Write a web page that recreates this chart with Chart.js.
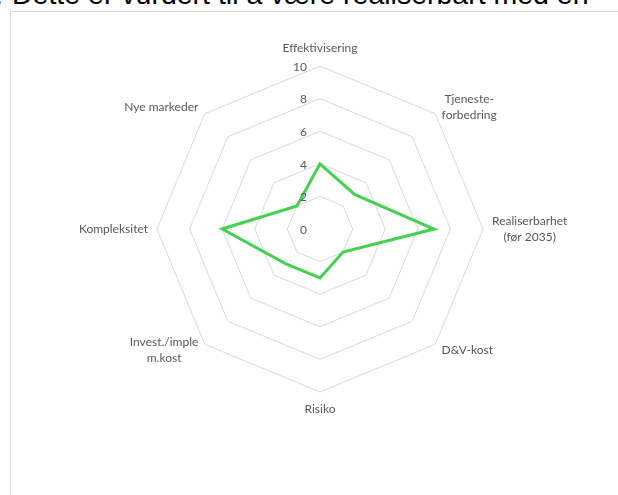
<!DOCTYPE html>
<html>
<head>
<meta charset="utf-8">
<script src="https://cdn.jsdelivr.net/npm/chart.js@4"></script>
<style>
  html, body { margin: 0; padding: 0; background: #fff; overflow: hidden; }
  body { width: 618px; height: 495px; position: relative; }
  .intro {
    position: absolute; top: -20px;
    font-family: "Liberation Sans", Arial, sans-serif;
    font-size: 28.5px; line-height: 28.5px; color: #000; white-space: nowrap;
  }
  #frame {
    position: absolute; left: 10px; top: 11px; width: 700px; height: 600px;
    border: 1px solid #d9d9d9; box-sizing: border-box;
  }
  #wrap { position: absolute; left: 0; top: 0; width: 618px; height: 495px; }
</style>
</head>
<body>
<div class="intro" style="left:-5px">.</div>
<div class="intro" style="left:12px">Dette er vurdert til å være realiserbart med en</div>
<div id="frame"></div>
<div id="wrap"><canvas id="radarChart"></canvas></div>
<script>
// kategorier (aksene) og verdier
const categories = [
    ['Effektivisering'],
    ['Tjeneste-', 'forbedring'],
    ['Realiserbarhet', '(før 2035)'],
    ['D&V-kost'],
    ['Risiko'],
    ['Invest./imple', 'm.kost'],
    ['Kompleksitet'],
    ['Nye markeder']
];
const scores = [4, 3, 7, 2, 3, 3, 6, 2];
const tickValues = [0, 2, 4, 6, 8, 10];

const labelColor = '#595959';
const labelFont = '12px Lato, "Noto Sans", sans-serif';

// tall på skalaen, til venstre for den loddrette aksen
const tickLabelPlugin = {
    id: 'tickLabels',
    afterDatasetsDraw(chart) {
        const scale = chart.scales.r;
        const ctx = chart.ctx;
        ctx.save();
        ctx.font = labelFont;
        ctx.fillStyle = labelColor;
        ctx.textAlign = 'right';
        ctx.textBaseline = 'middle';
        tickValues.forEach(v => {
            const y = scale.yCenter - scale.getDistanceFromCenterForValue(v);
            ctx.fillText(String(v), scale.xCenter - 13, y + 1);
        });
        ctx.restore();
    }
};

// aksetitler, midtstilte linjer som i Excel
const pointLabelPlugin = {
    id: 'pointLabelsCustom',
    afterDraw(chart) {
        const scale = chart.scales.r;
        const ctx = chart.ctx;
        const lineH = 16;
        ctx.save();
        ctx.font = labelFont;
        ctx.fillStyle = labelColor;
        ctx.textAlign = 'center';
        ctx.textBaseline = 'middle';
        categories.forEach((lines, i) => {
            const p = scale.getPointPosition(i, scale.drawingArea + 9);
            const w = Math.max(...lines.map(l => ctx.measureText(l).width));
            const h = lines.length * lineH;
            const angle = i * 360 / categories.length;
            let cx = p.x, cy = p.y;
            if (angle === 0) {
                cy = p.y - h / 2 - 1;
            } else if (angle === 180) {
                cy = p.y + h / 2;
            } else if (angle < 180) {
                cx = p.x + w / 2;
            } else {
                cx = p.x - w / 2;
            }
            lines.forEach((l, k) => {
                ctx.fillText(l, cx, cy - h / 2 + lineH * (k + 0.5));
            });
        });
        ctx.restore();
    }
};

new Chart(document.getElementById('radarChart'), {
    type: 'radar',
    data: {
        labels: categories,
        datasets: [{
            data: scores,
            borderColor: '#44d150',
            backgroundColor: 'rgba(0,0,0,0)',
            borderWidth: 3,
            pointRadius: 0,
            pointHoverRadius: 0,
            fill: false,
            tension: 0
        }]
    },
    options: {
        responsive: true,
        maintainAspectRatio: false,
        animation: false,
        layout: {
            padding: { left: 157, top: 66, right: 135, bottom: 103 }
        },
        plugins: {
            legend: { display: false },
            tooltip: { enabled: false }
        },
        elements: {
            line: { borderJoinStyle: 'miter' }
        },
        scales: {
            r: {
                min: 0,
                max: 10,
                ticks: { stepSize: 2, display: false },
                grid: { color: '#d9d9d9', lineWidth: 1, circular: false },
                angleLines: { display: false },
                pointLabels: { display: false }
            }
        }
    },
    plugins: [tickLabelPlugin, pointLabelPlugin]
});
</script>
</body>
</html>
